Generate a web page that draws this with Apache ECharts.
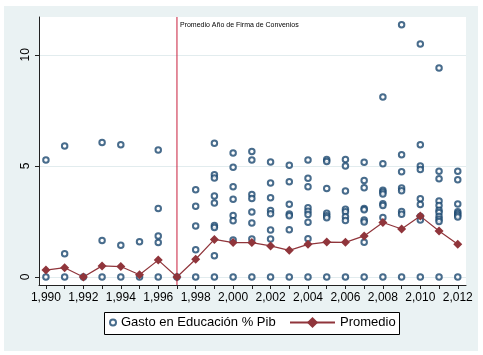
<!DOCTYPE html>
<html>
<head>
<meta charset="utf-8">
<script src="https://cdn.jsdelivr.net/npm/echarts@6/dist/echarts.min.js"></script>
<style>
  html, body { margin: 0; padding: 0; background: #ffffff; }
  #wrap { position: relative; width: 483px; height: 355px; }
  #bg { position: absolute; left: 4px; top: 6px; width: 474px; height: 345px; background: #eaf2f3; }
  #chart { position: absolute; left: 0; top: 0; width: 483px; height: 355px; }
</style>
</head>
<body>
<div id="wrap">
  <div id="bg"></div>
  <div id="chart"></div>
</div>
<script>
// años del panel
const years = [1990, 1991, 1992, 1993, 1994, 1995, 1996, 1997, 1998, 1999, 2000, 2001,
               2002, 2003, 2004, 2005, 2006, 2007, 2008, 2009, 2010, 2011, 2012];

// gasto en educación (% PIB) por año
const gastoPorAnio = [
  [5.27, 0],
  [5.9, 1.05, 0],
  [0],
  [6.05, 1.64, 0],
  [5.95, 1.43, 0],
  [1.59, 0],
  [5.72, 3.08, 1.85, 1.55, 0],
  [0],
  [3.93, 3.18, 2.3, 1.23, 0],
  [6.02, 4.6, 4.46, 3.65, 3.33, 2.32, 2.23, 0.96, 0],
  [5.58, 4.94, 4.06, 3.5, 2.77, 2.53, 1.67, 0],
  [5.65, 5.27, 3.71, 3.53, 2.93, 2.43, 1.71, 0],
  [5.18, 4.23, 3.57, 2.99, 2.85, 2.12, 1.71, 0],
  [5.03, 4.29, 3.27, 2.84, 2.76, 2.13, 0],
  [5.26, 4.44, 4.06, 3.12, 2.96, 2.81, 2.46, 1.72, 0],
  [5.29, 5.2, 3.98, 2.87, 2.76, 2.67, 0],
  [5.29, 5.0, 3.87, 3.05, 2.94, 2.71, 2.54, 0],
  [5.16, 4.34, 4.02, 3.08, 3.03, 2.57, 2.48, 1.56, 0],
  [8.1, 5.1, 3.9, 3.82, 3.74, 3.3, 3.22, 2.68, 0],
  [11.35, 5.5, 4.74, 4.0, 3.88, 2.95, 2.82, 0],
  [10.48, 5.95, 5.0, 4.84, 3.52, 3.26, 2.72, 2.57, 0],
  [9.4, 4.76, 4.42, 3.42, 3.22, 3.0, 2.9, 2.72, 2.6, 2.5, 0],
  [4.76, 4.38, 3.28, 2.94, 2.86, 2.78, 2.7, 0]
];

const promedio = [0.31, 0.42, 0, 0.5, 0.47, 0.1, 0.76, 0, 0.8, 1.69, 1.55, 1.55,
                  1.4, 1.2, 1.47, 1.57, 1.56, 1.85, 2.45, 2.16, 2.74, 2.07, 1.47];

const xTicks = years;
const xLabels = [1990, 1992, 1994, 1996, 1998, 2000, 2002, 2004, 2006, 2008, 2010, 2012];
const yTicks = [0, 5, 10];
const anioConvenios = 1997;
const yMin = -0.36;
const yMax = 11.7;

const navy = '#1a476f';
const maroon = '#90353b';
const crimson = '#c81e3c';

const scatterData = [];
years.forEach((y, i) => {
    gastoPorAnio[i].forEach(v => scatterData.push([y, v]));
});

const chart = echarts.init(document.getElementById('chart'), null, { renderer: 'canvas' });

const font = 'Liberation Sans, Arial, Helvetica, sans-serif';

const options = {
    backgroundColor: 'transparent',
    animation: false,
    textStyle: { fontFamily: font },
    grid: {
        left: 39, right: 17, top: 17, bottom: 70,
        show: true,
        backgroundColor: '#ffffff',
        borderWidth: 0
    },
    xAxis: {
        type: 'value',
        min: 1989.63,
        max: 2012.44,
        axisLine: { show: true, onZero: false, lineStyle: { color: '#222', width: 1 } },
        axisTick: { show: true, customValues: xTicks, length: 4, lineStyle: { color: '#222' } },
        axisLabel: { customValues: xLabels, color: '#000', fontSize: 12, margin: 7, fontFamily: font },
        splitLine: { show: false }
    },
    yAxis: {
        type: 'value',
        min: yMin,
        max: yMax,
        axisLine: { show: true, onZero: false, lineStyle: { color: '#222', width: 1 } },
        axisTick: { show: true, customValues: yTicks, length: 4, lineStyle: { color: '#222' } },
        axisLabel: { customValues: yTicks, rotate: 90, color: '#000', fontSize: 12, margin: 7, fontFamily: font },
        splitLine: { show: true, lineStyle: { color: '#e2ecee', width: 1 } }
    },
    legend: [
        {
            data: [{ name: 'Gasto en Educación % Pib', icon: 'emptyCircle' }],
            left: 109, top: 316,
            itemWidth: 6, itemHeight: 6,
            padding: 0,
            textStyle: { fontSize: 13, color: '#000', fontFamily: font }
        },
        {
            data: ['Promedio'],
            left: 289, top: 316,
            itemWidth: 45, itemHeight: 14,
            padding: 0,
            textStyle: { fontSize: 13, color: '#000', fontFamily: font }
        }
    ],
    series: [
        {
            name: 'Firma de Convenios',
            type: 'line',
            symbol: 'none',
            silent: true,
            lineStyle: { color: crimson, width: 1 },
            itemStyle: { color: crimson },
            data: [[anioConvenios, yMin], [anioConvenios, yMax]],
            z: 1
        },
        {
            name: 'Gasto en Educación % Pib',
            type: 'scatter',
            symbol: 'emptyCircle',
            symbolSize: 5.5,
            itemStyle: { color: navy, borderColor: navy, borderWidth: 1.2 },
            data: scatterData,
            z: 2
        },
        {
            name: 'Promedio',
            type: 'line',
            symbol: 'diamond',
            symbolSize: 9,
            showSymbol: true,
            lineStyle: { color: maroon, width: 1.2 },
            itemStyle: { color: maroon },
            data: years.map((y, i) => [y, promedio[i]]),
            z: 3
        }
    ]
};

chart.setOption(options);

// etiqueta de la línea vertical y marco de la leyenda
const p = chart.convertToPixel({ gridIndex: 0 }, [anioConvenios, yMax]);
chart.setOption({
    graphic: [
        {
            type: 'rect', z: 1,
            shape: { x: 104.5, y: 312.5, width: 295, height: 22 },
            style: { fill: '#ffffff', stroke: '#000', lineWidth: 1 }
        },
        {
            type: 'text', z: 10,
            x: p[0] + 3, y: p[1] + 5,
            style: { text: 'Promedio Año de Firma de Convenios', font: '7px ' + font, fill: '#000' }
        }
    ]
});
</script>
</body>
</html>
